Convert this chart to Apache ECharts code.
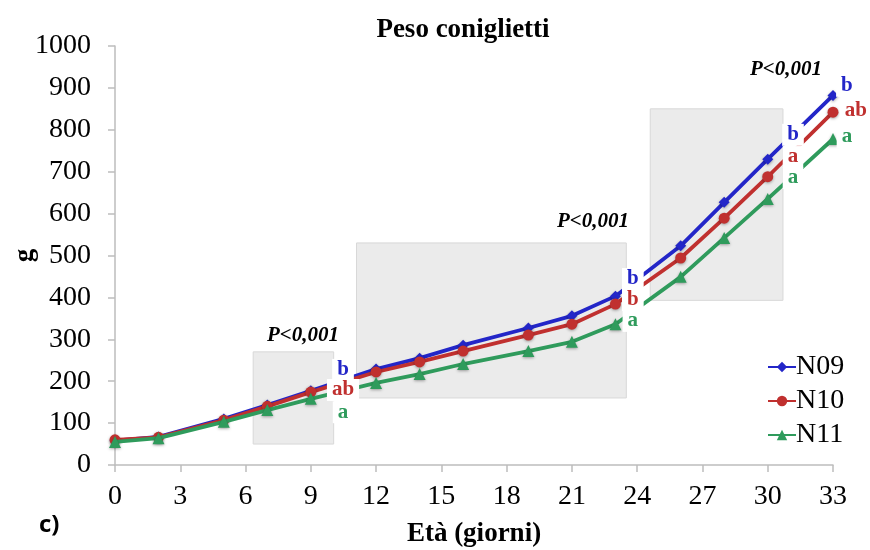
<!DOCTYPE html>
<html>
<head>
<meta charset="utf-8">
<script src="https://cdn.jsdelivr.net/npm/echarts@6/dist/echarts.min.js"></script>
<style>
  html, body {margin: 0; padding: 0; background: #fff;}
  #chart {width: 870px; height: 550px;}
</style>
</head>
<body>
<div id="chart"></div>
<script>
// giorni di età
const days = [0, 2, 5, 7, 9, 12, 14, 16, 19, 21, 23, 26, 28, 30, 33];
const n09 = [58, 67, 110, 143, 177, 229, 255, 286, 327, 356, 403, 523, 627, 730, 882];
const n10 = [60, 66, 107, 140, 174, 222, 246, 272, 310, 336, 384, 494, 589, 688, 842];
const n11 = [55, 64, 103, 131, 158, 196, 217, 241, 272, 294, 336, 449, 542, 635, 778];
const xTicks = [0, 3, 6, 9, 12, 15, 18, 21, 24, 27, 30, 33];

// finestre di confronto: [xStart, yBottom, xEnd, yTop]
const windows = [
  [6.35, 50, 10.05, 270],
  [11.1, 160, 23.5, 530],
  [24.6, 393, 30.7, 850]
];
// lettere di significatività: [x, y, testo, gruppo]
const letters = [
  [10.48, 227, 'b', 0], [10.48, 179, 'ab', 1], [10.48, 126, 'a', 2],
  [23.8, 444, 'b', 0], [23.8, 394, 'b', 1], [23.8, 344, 'a', 2],
  [31.16, 788, 'b', 0], [31.16, 735, 'a', 1], [31.16, 685, 'a', 2],
  [33.64, 905, 'b', 0], [34.05, 847, 'ab', 1], [33.64, 783, 'a', 2]
];
const pLabels = [[8.64, 310], [21.97, 580], [30.84, 943]];

const colors = ['#2326c8', '#c0302f', '#2f9b5c'];
const serif = 'Liberation Serif';

const myChart = echarts.init(document.getElementById('chart'));
myChart.setOption({
  animation: false,
  textStyle: {fontFamily: serif},
  title: {
    text: 'Peso coniglietti',
    left: 458, top: 12, textAlign: 'center',
    textStyle: {fontFamily: serif, fontWeight: 'bold', fontSize: 27, color: '#000'}
  },
  graphic: [{
    type: 'text', left: 39, top: 513,
    style: {text: 'c)', font: 'bold 24px "Open Sans"', fill: '#000'}
  }],
  legend: {
    orient: 'vertical',
    left: 762, top: 348,
    itemGap: 6,
    itemWidth: 28, itemHeight: 13,
    textStyle: {fontFamily: serif, fontSize: 28, color: '#000', padding: [0, 0, 0, -5]},
    data: ['N09', 'N10', 'N11']
  },
  grid: {left: 115, right: 37, top: 46, bottom: 85, outerBoundsMode: 'none', containLabel: false},
  xAxis: {
    type: 'value', min: 0, max: 33, interval: 3,
    name: 'Età (giorni)', nameLocation: 'middle', nameGap: 56,
    nameTextStyle: {fontFamily: serif, fontWeight: 'bold', fontSize: 27, color: '#000'},
    axisLine: {lineStyle: {color: '#bdbdbd', width: 1.5}},
    axisTick: {show: true, length: 7, lineStyle: {color: '#bdbdbd', width: 1.5}},
    axisLabel: {
      fontFamily: serif, fontSize: 28, color: '#000', margin: 18,
      formatter: v => xTicks.includes(v) ? String(v) : ''
    },
    splitLine: {show: false}
  },
  yAxis: {
    type: 'value', min: 0, max: 1000, interval: 100,
    name: 'g', nameLocation: 'middle', nameGap: 76, nameRotate: 90, nameMoveOverlap: false,
    nameTextStyle: {fontFamily: serif, fontWeight: 'bold', fontSize: 27, color: '#000'},
    axisLine: {show: true, lineStyle: {color: '#bdbdbd', width: 1.5}},
    axisTick: {show: true, length: 7, lineStyle: {color: '#bdbdbd', width: 1.5}},
    axisLabel: {fontFamily: serif, fontSize: 28, color: '#000', margin: 24, formatter: v => String(v)},
    splitLine: {show: false}
  },
  series: [
    {
      type: 'line', data: [], silent: true, z: 1,
      markArea: {
        silent: true,
        itemStyle: {color: '#ebebeb', borderColor: '#d8d8d8', borderWidth: 1},
        data: windows.map(w => [{coord: [w[0], w[1]]}, {coord: [w[2], w[3]]}])
      }
    },
    {name: 'N09', symbol: 'diamond', symbolSize: 11, data: n09},
    {name: 'N10', symbol: 'circle', symbolSize: 11, data: n10},
    {name: 'N11', symbol: 'triangle', symbolSize: 12, data: n11}
  ].map((s, i) => i === 0 ? s : {
    ...s,
    type: 'line',
    z: 2 + i,
    data: days.map((d, k) => [d, s.data[k]]),
    color: colors[i - 1],
    lineStyle: {width: 3.8, color: colors[i - 1]},
    itemStyle: {color: colors[i - 1], shadowColor: 'rgba(0,0,0,0.35)', shadowBlur: 3, shadowOffsetY: 1}
  }).concat([
    {
      type: 'scatter', z: 10, silent: true, clip: false, symbolSize: 0,
      itemStyle: {opacity: 1},
      data: letters.map(l => ({
        value: [l[0], l[1]],
        label: {
          show: true, position: 'inside', formatter: l[2],
          fontFamily: serif, fontWeight: 'bold', fontSize: 21,
          color: colors[l[3]], backgroundColor: '#fff', padding: [0, 5, 1, 5]
        }
      }))
    },
    {
      type: 'scatter', z: 10, silent: true, clip: false, symbolSize: 0,
      itemStyle: {opacity: 1},
      data: pLabels.map(p => ({
        value: p,
        label: {
          show: true, position: 'inside', formatter: 'P<0,001',
          fontFamily: serif, fontWeight: 'bold', fontStyle: 'italic', fontSize: 21,
          color: '#000'
        }
      }))
    }
  ])
});
</script>
</body>
</html>
